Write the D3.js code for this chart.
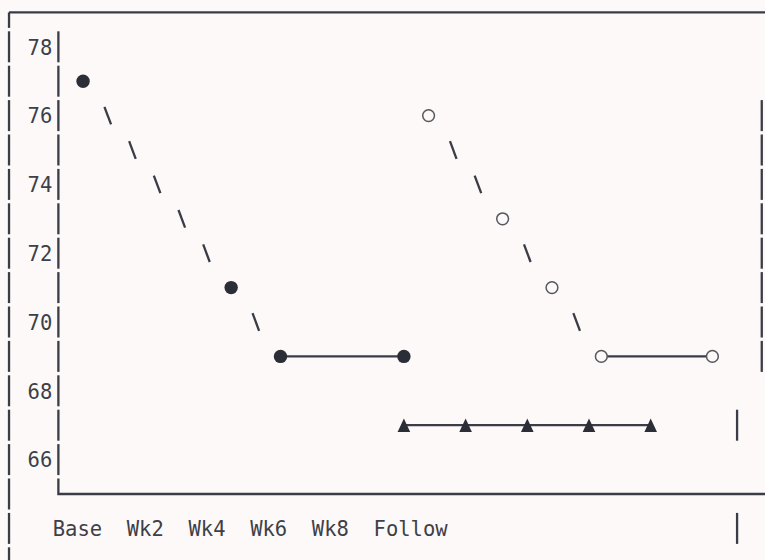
<!DOCTYPE html>
<html>
<head>
<meta charset="utf-8">
<script src="https://cdn.jsdelivr.net/npm/d3@7"></script>
<style>
  html, body { margin: 0; padding: 0; background: #fdf9f8; }
  svg { display: block; }
</style>
</head>
<body>
<div id="chart"></div>
<script>
// ---- data ----
const categories = ["Base", "Wk2", "Wk4", "Wk6", "Wk8", "Follow"];
const categoryWeeks = [0, 2, 4, 6, 8, 10];
const yTicks = [66, 68, 70, 72, 74, 76, 78];

const seriesAWeeks = [0, 4.8, 6.4, 10.4];
const seriesAValues = [77, 71, 69, 69];

const seriesBWeeks = [11.2, 13.6, 15.2, 16.8, 20.4];
const seriesBValues = [76, 73, 71, 69, 69];

const seriesCWeeks = [10.4, 12.4, 14.4, 16.4, 18.4];
const seriesCValues = [67, 67, 67, 67, 67];

// ---- layout (character grid) ----
const W = 765, H = 560;
const CW = 12.34, X0 = 2.85, RH = 34.4, Y0 = 12.4;
const col = c => X0 + (c + 0.5) * CW;
const row = r => Y0 + r * RH;
const HALF = 15.5;
const ink = "#3a3d45", markInk = "#2b2e36", textInk = "#3d4047", bg = "#fdf9f8";
const font = "'DejaVu Sans Mono', 'Liberation Mono', monospace";
const fontSize = 20.5;

const svg = d3.select("#chart").append("svg")
  .attr("width", W).attr("height", H)
  .style("background", bg);

const x = d3.scaleLinear().domain([0, 20]).range([col(6), col(56)]);
const y = d3.scaleLinear().domain([65, 78]).range([row(14), row(1)]);

// ---- frame (text-mode box pieces) ----
const frame = svg.append("g").attr("stroke", ink).attr("stroke-width", 2.3).attr("fill", "none");
frame.append("line").attr("x1", col(0)).attr("x2", W).attr("y1", row(0)).attr("y2", row(0));
frame.append("line").attr("x1", col(0)).attr("x2", col(0)).attr("y1", row(0)).attr("y2", row(0) + HALF);
function vseg(c, r) {
  frame.append("line").attr("x1", col(c)).attr("x2", col(c))
    .attr("y1", row(r) - HALF).attr("y2", row(r) + HALF);
}
for (let r = 1; r <= 16; r++) vseg(0, r);
for (let r = 3; r <= 10; r++) vseg(61, r);
[12, 15].forEach(r => vseg(59, r));

// ---- y axis ----
const axisX = col(4);
const axisG = svg.append("g").attr("stroke", ink).attr("stroke-width", 2.3);
for (let v = 78; v >= 66; v--) {
  axisG.append("line").attr("x1", axisX).attr("x2", axisX)
    .attr("y1", y(v) - HALF).attr("y2", y(v) + HALF);
}
axisG.append("path").attr("fill", "none")
  .attr("d", `M${axisX},${y(65) - HALF}V${y(65)}H${W}`);

const yAxis = svg.append("g")
  .attr("transform", `translate(${axisX},0)`)
  .call(d3.axisLeft(y).tickValues(yTicks).tickSize(0).tickPadding(axisX - col(3) - CW / 2));
yAxis.select(".domain").remove();
yAxis.selectAll("text")
  .attr("font-family", font).attr("font-size", fontSize)
  .attr("fill", textInk).attr("dy", "0.36em");

// ---- x axis labels ----
const xAxis = svg.append("g")
  .attr("transform", `translate(0,${row(15)})`)
  .call(d3.axisBottom(x).tickValues(categoryWeeks).tickSize(0)
    .tickFormat((d, i) => categories[i]));
xAxis.select(".domain").remove();
xAxis.selectAll("text")
  .attr("font-family", font).attr("font-size", fontSize)
  .attr("fill", textInk).attr("y", 0).attr("dy", "0.36em")
  .attr("text-anchor", (d, i) => i === 0 ? "end" : "start")
  .attr("x", (d, i) => i === 0 ? 1.5 * CW : -1.5 * CW);

// ---- series ----
function drawConnectors(weeks, values) {
  const g = svg.append("g");
  for (let i = 0; i < weeks.length - 1; i++) {
    const a = values[i], b = values[i + 1];
    if (a === b) {
      g.append("line")
        .attr("x1", x(weeks[i])).attr("x2", x(weeks[i + 1]))
        .attr("y1", y(a)).attr("y2", y(b))
        .attr("stroke", ink).attr("stroke-width", 2.2);
    } else {
      const step = a > b ? -1 : 1;
      for (let v = a + step; v !== b; v += step) {
        const t = (v - a) / (b - a);
        const cx = x(weeks[i] + t * (weeks[i + 1] - weeks[i]));
        const cy = y(v);
        const dx = a > b ? 3.3 : -3.3;
        g.append("line")
          .attr("x1", cx - dx).attr("x2", cx + dx)
          .attr("y1", cy - 8.8).attr("y2", cy + 8.8)
          .attr("stroke", ink).attr("stroke-width", 2.3);
      }
    }
  }
}
drawConnectors(seriesAWeeks, seriesAValues);
drawConnectors(seriesBWeeks, seriesBValues);
drawConnectors(seriesCWeeks, seriesCValues);

svg.append("g").selectAll("circle")
  .data(seriesAWeeks.map((w, i) => [w, seriesAValues[i]]))
  .join("circle")
  .attr("cx", d => x(d[0])).attr("cy", d => y(d[1]))
  .attr("r", 6.7).attr("fill", markInk);

svg.append("g").selectAll("circle")
  .data(seriesBWeeks.map((w, i) => [w, seriesBValues[i]]))
  .join("circle")
  .attr("cx", d => x(d[0])).attr("cy", d => y(d[1]))
  .attr("r", 5.9).attr("fill", bg).attr("stroke", "#55585e").attr("stroke-width", 1.5);

svg.append("g").selectAll("path")
  .data(seriesCWeeks.map((w, i) => [w, seriesCValues[i]]))
  .join("path")
  .attr("transform", d => `translate(${x(d[0])},${y(d[1])})`)
  .attr("d", "M0,-6.7L6.3,6.7L-6.3,6.7Z")
  .attr("fill", markInk);
</script>
</body>
</html>
